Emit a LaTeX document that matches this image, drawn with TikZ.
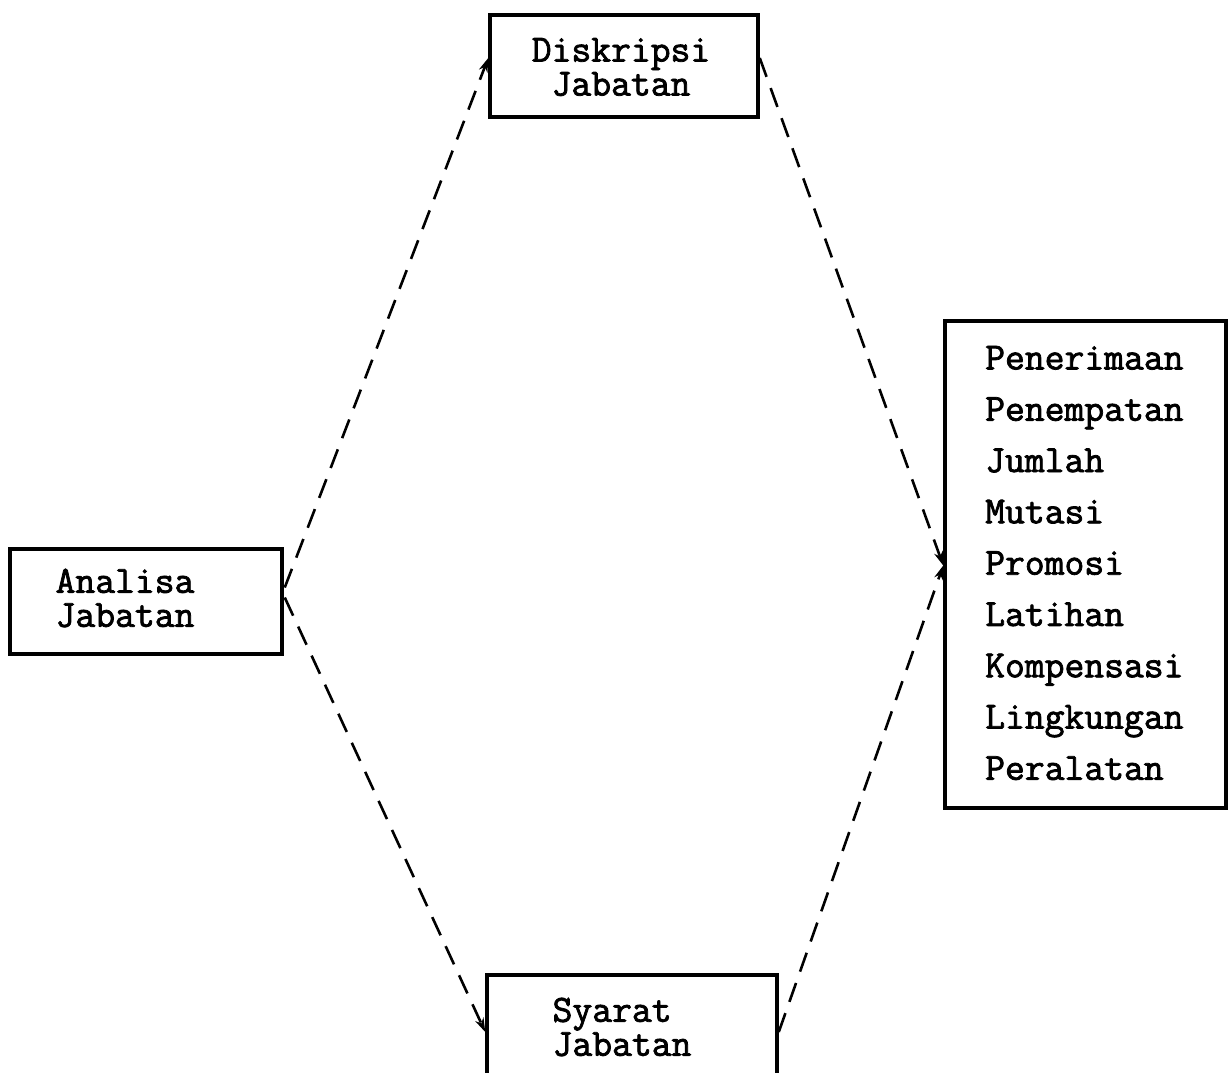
\documentclass[tikz,border=0pt]{standalone}
\usepackage{fontspec}
\newfontfamily\typewr[FakeBold=2]{Latin Modern Mono}
\usetikzlibrary{arrows.meta,calc}
\begin{document}
\begin{tikzpicture}[x=1pt,y=-1pt,
  box/.style={draw,line width=3.5pt,rectangle,inner sep=0pt},
  txt/.style={font=\typewr\fontsize{38.5}{34}\selectfont,inner sep=0pt},
  listtxt/.style={font=\typewr\fontsize{38.5}{51.3}\selectfont,inner sep=0pt,align=left,anchor=west},
  link/.style={line width=2.6pt,dash pattern=on 20pt off 12pt,-{Stealth[length=14pt,width=9pt]}}]
\useasboundingbox[fill=white] (0,0) rectangle (1228,1072);
\clip (0,0) rectangle (1228,1072);
\node[box,minimum width=268pt,minimum height=102pt] (dj) at (624,66) {};
\node[box,minimum width=272pt,minimum height=105pt] (aj) at (146,601.5) {};
\node[box,minimum width=281pt,minimum height=487pt] (lst) at (1085.5,564.5) {};
\node[box,minimum width=290pt,minimum height=124pt] (sj) at (632,1037) {};
\node[txt,align=center] (djt) at (621,67) {Diskripsi\\Jabatan};
\node[txt,align=left] (ajt) at (125,598) {Analisa\\Jabatan};
\node[txt,align=left] (sjt) at (622,1027) {Syarat\\Jabatan};
\node[listtxt] (lt) at (985,563) {Penerimaan\\Penempatan\\Jumlah\\Mutasi\\Promosi\\Latihan\\Kompensasi\\Lingkungan\\Peralatan};
\coordinate (a1) at ($(aj.east)+(1,-14)$);
\coordinate (a2) at ($(aj.east)+(1,-4)$);
\coordinate (d1) at ($(dj.west)+(0,-8)$);
\coordinate (d2) at ($(dj.east)+(0,-8)$);
\coordinate (s1) at ($(sj.west)+(0,-5)$);
\coordinate (s2) at ($(sj.east)+(0,-5)$);
\coordinate (l1) at ($(lst.west)+(0,1)$);
\draw[link] (a1) -- (d1);
\draw[link] (a2) -- (s1);
\draw[link] (d2) -- (l1);
\draw[link] (s2) -- (l1);
\end{tikzpicture}
\end{document}
